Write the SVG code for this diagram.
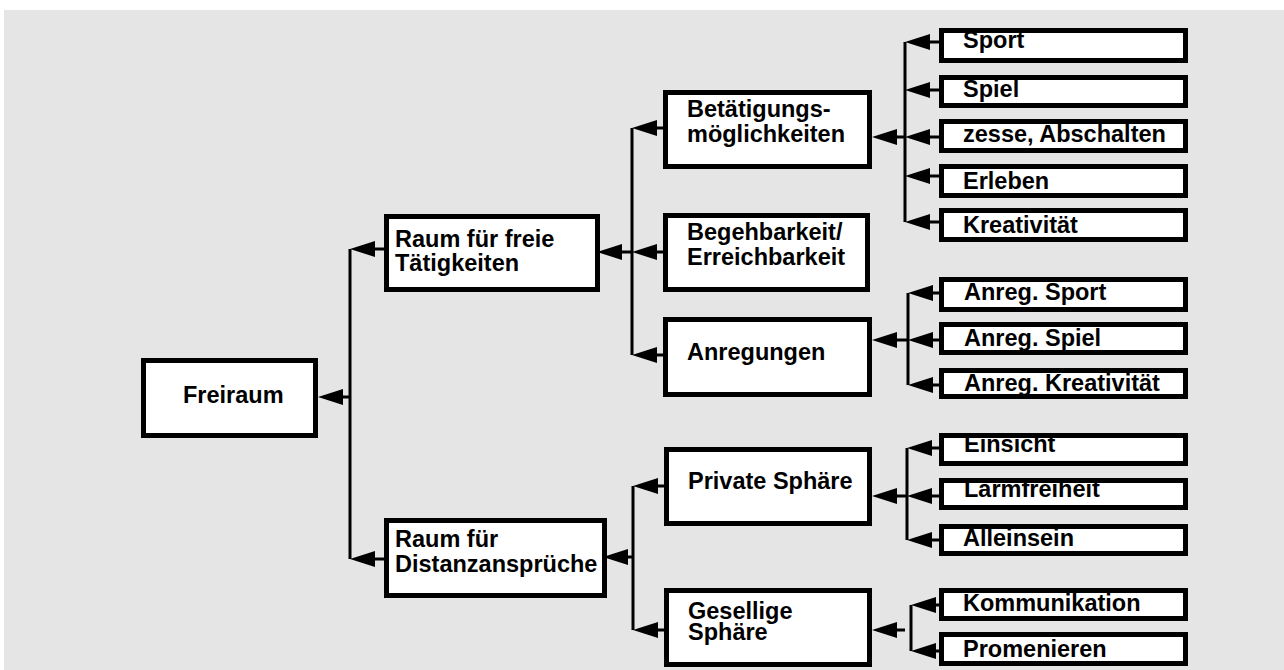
<svg xmlns="http://www.w3.org/2000/svg" xmlns:xlink="http://www.w3.org/1999/xlink" width="1284" height="670" viewBox="0 0 1284 670">
<style>
.bg{fill:#ffffff;stroke:none}
.fr{fill:none;stroke:#000;stroke-width:5}
.t{font-family:"Liberation Sans",Arial,Helvetica,sans-serif;font-weight:bold;font-size:23.5px;fill:#000}
.ln{stroke:#000;stroke-width:3;fill:none}
</style>
<defs>
<path id="ah" d="M0,0 L25,-8 L25,8 Z" fill="#000"/>
</defs>
<rect x="0" y="0" width="1284" height="670" fill="#ffffff"/>
<rect x="4" y="10" width="1280" height="660" fill="#e5e5e5"/>

<g id="connectors">
<path class="ln" d="M350,249 V559 M343,397 H350 M375,249 H384 M375,559 H384"/>
<use xlink:href="#ah" x="318" y="397"/>
<use xlink:href="#ah" x="350" y="249"/>
<use xlink:href="#ah" x="350" y="559"/>
<path class="ln" d="M632,128 V355 M622,252 H632 M657,128 H663 M657,252 H663 M657,355 H663"/>
<use xlink:href="#ah" x="597" y="252"/>
<use xlink:href="#ah" x="632" y="128"/>
<use xlink:href="#ah" x="632" y="252"/>
<use xlink:href="#ah" x="632" y="355"/>
<path class="ln" d="M633,486 V630 M628,557 H633 M658,486 H664 M658,630 H664"/>
<use xlink:href="#ah" x="603" y="557"/>
<use xlink:href="#ah" x="633" y="486"/>
<use xlink:href="#ah" x="633" y="630"/>
<path class="ln" d="M905,42 V222 M897,137 H905 M930,42 H939 M930,90 H939 M930,137 H939 M930,176 H939 M930,222 H939"/>
<use xlink:href="#ah" x="872" y="137"/>
<use xlink:href="#ah" x="905" y="42"/>
<use xlink:href="#ah" x="905" y="90"/>
<use xlink:href="#ah" x="905" y="137"/>
<use xlink:href="#ah" x="905" y="176"/>
<use xlink:href="#ah" x="905" y="222"/>
<path class="ln" d="M908,293 V385 M897,340 H908 M933,293 H939 M933,340 H939 M933,385 H939"/>
<use xlink:href="#ah" x="872" y="340"/>
<use xlink:href="#ah" x="908" y="293"/>
<use xlink:href="#ah" x="908" y="340"/>
<use xlink:href="#ah" x="908" y="385"/>
<path class="ln" d="M907,448 V540 M897,496 H907 M932,448 H939 M932,496 H939 M932,540 H939"/>
<use xlink:href="#ah" x="872" y="496"/>
<use xlink:href="#ah" x="907" y="448"/>
<use xlink:href="#ah" x="907" y="496"/>
<use xlink:href="#ah" x="907" y="540"/>
<path class="ln" d="M911,605 V651 M897,630 H905 M936,605 H939 M936,651 H939"/>
<use xlink:href="#ah" x="872" y="630"/>
<use xlink:href="#ah" x="911" y="605"/>
<use xlink:href="#ah" x="911" y="651"/>
</g>

<g id="freiraum">
<rect class="bg" x="143.5" y="360.5" width="172" height="75"/>
<text class="t" x="183" y="403">Freiraum</text>
<rect class="fr" x="143.5" y="360.5" width="172" height="75"/>
</g>
<g id="raum-taetigkeiten">
<rect class="bg" x="386.5" y="216.5" width="211" height="73"/>
<text class="t" x="395" y="247">Raum für freie</text>
<text class="t" x="395" y="271">Tätigkeiten</text>
<rect class="fr" x="386.5" y="216.5" width="211" height="73"/>
</g>
<g id="raum-distanz">
<rect class="bg" x="386.5" y="520.5" width="218" height="75"/>
<text class="t" x="395" y="547">Raum für</text>
<text class="t" x="395" y="572">Distanzansprüche</text>
<rect class="fr" x="386.5" y="520.5" width="218" height="75"/>
</g>
<g id="betaetigung">
<rect class="bg" x="665.5" y="92.5" width="204" height="74"/>
<text class="t" x="687" y="117">Betätigungs-</text>
<text class="t" x="687" y="142">möglichkeiten</text>
<rect class="fr" x="665.5" y="92.5" width="204" height="74"/>
</g>
<g id="begehbarkeit">
<rect class="bg" x="665.5" y="215.5" width="202" height="74"/>
<text class="t" x="687" y="240">Begehbarkeit/</text>
<text class="t" x="687" y="265">Erreichbarkeit</text>
<rect class="fr" x="665.5" y="215.5" width="202" height="74"/>
</g>
<g id="anregungen">
<rect class="bg" x="665.5" y="319.5" width="204" height="75"/>
<text class="t" x="687" y="360">Anregungen</text>
<rect class="fr" x="665.5" y="319.5" width="204" height="75"/>
</g>
<g id="private">
<rect class="bg" x="666.5" y="449.5" width="203" height="74"/>
<text class="t" x="688" y="489">Private Sphäre</text>
<rect class="fr" x="666.5" y="449.5" width="203" height="74"/>
</g>
<g id="gesellige">
<rect class="bg" x="666.5" y="590.5" width="203" height="74"/>
<text class="t" x="688" y="619">Gesellige</text>
<text class="t" x="688" y="640">Sphäre</text>
<rect class="fr" x="666.5" y="590.5" width="203" height="74"/>
</g>

<g id="sport">
<rect class="bg" x="941.5" y="30.5" width="244" height="30"/>
<text class="t" x="963" y="48">Sport</text>
<rect class="fr" x="941.5" y="30.5" width="244" height="30"/>
</g>
<g id="spiel">
<rect class="bg" x="941.5" y="77.5" width="244" height="28"/>
<text class="t" x="963" y="97">Spiel</text>
<rect class="fr" x="941.5" y="77.5" width="244" height="28"/>
</g>
<g id="abschalten">
<rect class="bg" x="941.5" y="121.5" width="244" height="29"/>
<text class="t" x="963" y="142">zesse, Abschalten</text>
<rect class="fr" x="941.5" y="121.5" width="244" height="29"/>
</g>
<g id="erleben">
<rect class="bg" x="941.5" y="166.5" width="244" height="29"/>
<text class="t" x="963" y="189">Erleben</text>
<rect class="fr" x="941.5" y="166.5" width="244" height="29"/>
</g>
<g id="kreativitaet">
<rect class="bg" x="941.5" y="210.5" width="244" height="29"/>
<text class="t" x="963" y="233">Kreativität</text>
<rect class="fr" x="941.5" y="210.5" width="244" height="29"/>
</g>
<g id="anreg-sport">
<rect class="bg" x="941.5" y="279.5" width="244" height="30"/>
<text class="t" x="964" y="300">Anreg. Sport</text>
<rect class="fr" x="941.5" y="279.5" width="244" height="30"/>
</g>
<g id="anreg-spiel">
<rect class="bg" x="941.5" y="324.5" width="244" height="28"/>
<text class="t" x="964" y="346">Anreg. Spiel</text>
<rect class="fr" x="941.5" y="324.5" width="244" height="28"/>
</g>
<g id="anreg-kreativitaet">
<rect class="bg" x="941.5" y="370.5" width="244" height="26"/>
<text class="t" x="964" y="391">Anreg. Kreativität</text>
<rect class="fr" x="941.5" y="370.5" width="244" height="26"/>
</g>
<g id="einsicht">
<rect class="bg" x="941.5" y="435.5" width="244" height="28"/>
<text class="t" x="964" y="452">Einsicht</text>
<rect class="fr" x="941.5" y="435.5" width="244" height="28"/>
</g>
<g id="laermfreiheit">
<rect class="bg" x="941.5" y="480.5" width="244" height="27"/>
<text class="t" x="964" y="497">Lärmfreiheit</text>
<rect class="fr" x="941.5" y="480.5" width="244" height="27"/>
</g>
<g id="alleinsein">
<rect class="bg" x="941.5" y="526.5" width="244" height="27"/>
<text class="t" x="963" y="546">Alleinsein</text>
<rect class="fr" x="941.5" y="526.5" width="244" height="27"/>
</g>
<g id="kommunikation">
<rect class="bg" x="941.5" y="590.5" width="244" height="28"/>
<text class="t" x="963" y="611">Kommunikation</text>
<rect class="fr" x="941.5" y="590.5" width="244" height="28"/>
</g>
<g id="promenieren">
<rect class="bg" x="941.5" y="634.5" width="244" height="29"/>
<text class="t" x="963" y="657">Promenieren</text>
<rect class="fr" x="941.5" y="634.5" width="244" height="29"/>
</g>
</svg>
